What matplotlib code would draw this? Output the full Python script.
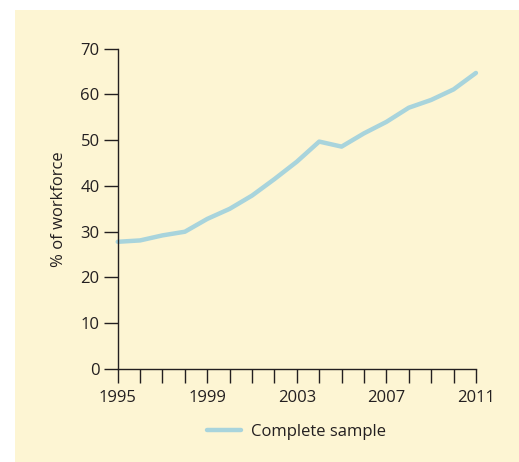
import matplotlib.pyplot as plt
from matplotlib.patches import Rectangle

years = list(range(1995, 2012))
complete_sample = [27.8, 28.1, 29.2, 30.0, 32.8, 35.0, 37.9, 41.5, 45.3, 49.7,
                   48.6, 51.5, 54.0, 57.1, 58.8, 61.1, 64.7]
xtick_labels = [1995, 1999, 2003, 2007, 2011]
ytick_labels = list(range(0, 80, 10))

plt.rcParams['font.family'] = ['Open Sans', 'DejaVu Sans']

bg = '#fdf5d3'
line_color = '#a8d4dc'
ink = '#231f20'

fig = plt.figure(figsize=(5.19, 4.62), dpi=100)
fig.patch.set_facecolor('white')
panel = Rectangle((15 / 519, 0), 1 - 15 / 519, 1 - 10 / 462,
                  transform=fig.transFigure, facecolor=bg,
                  edgecolor='none', zorder=-10)
fig.add_artist(panel)

ax = fig.add_axes([0.2268, 0.2013, 0.917 - 0.2268, 0.8946 - 0.2013])
ax.set_facecolor('none')

ax.plot(years, complete_sample, color=line_color, lw=3.2,
        solid_capstyle='round', label='Complete sample', clip_on=False)

ax.set_xlim(1995, 2011)
ax.set_ylim(0, 70)
ax.set_xticks(years)
ax.set_xticklabels([str(y) if y in xtick_labels else '' for y in years])
ax.set_yticks(ytick_labels)

for s in ['top', 'right']:
    ax.spines[s].set_visible(False)
for s in ['left', 'bottom']:
    ax.spines[s].set_linewidth(1.0)
    ax.spines[s].set_color(ink)

ax.tick_params(axis='both', direction='out', length=10, width=1.0,
               colors=ink, labelsize=12)
ax.tick_params(axis='x', pad=5)
ax.tick_params(axis='y', pad=3)

ax.set_ylabel('% of workforce', fontsize=12, color=ink, labelpad=10)

leg = fig.legend(loc='center', bbox_to_anchor=(0.571, 1 - 432 / 462),
                 frameon=False, fontsize=12, handlelength=2.0,
                 handletextpad=0.6)
for t in leg.get_texts():
    t.set_color(ink)

fig.savefig('out.png', dpi=100, facecolor=fig.get_facecolor())
